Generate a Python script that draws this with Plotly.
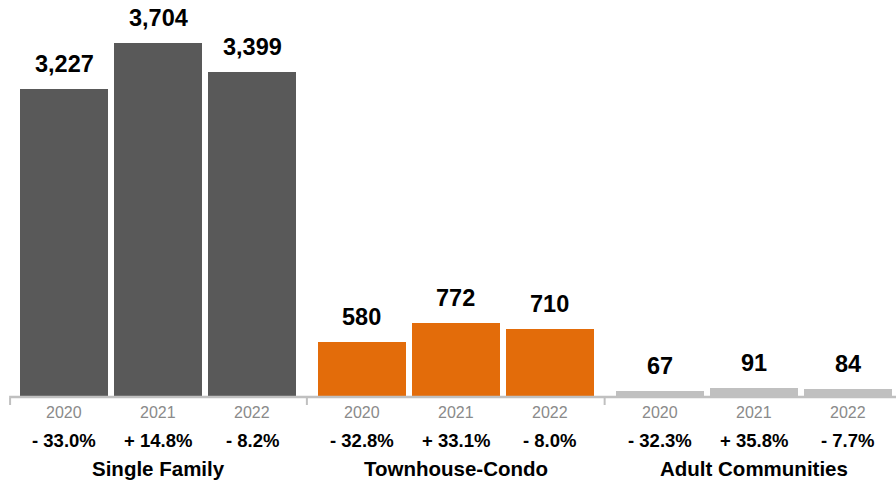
import plotly.graph_objects as go

# Closed sales by property type and year
groups = ["Single Family", "Townhouse-Condo", "Adult Communities"]
years = ["2020", "2021", "2022"]
single_family = [3227, 3704, 3399]
townhouse_condo = [580, 772, 710]
adult_communities = [67, 91, 84]
pct_single_family = ["- 33.0%", "+ 14.8%", "- 8.2%"]
pct_townhouse_condo = ["- 32.8%", "+ 33.1%", "- 8.0%"]
pct_adult_communities = ["- 32.3%", "+ 35.8%", "- 7.7%"]

series = [single_family, townhouse_condo, adult_communities]
pcts = [pct_single_family, pct_townhouse_condo, pct_adult_communities]
colors = ["#595959", "#E36C0A", "#C0C0C0"]

# Layout of the slots: one unit per bar slot, with a small extra gap between groups
GROUP_GAP = 0.1676
BAR_WIDTH = 0.936
X_MIN, X_MAX = -0.681, 8.851
Y_MAX = 4153

FONT = "Liberation Sans, Arial, Helvetica, sans-serif"

fig = go.Figure()
annotations = []
shapes = []

for g, (name, vals, pc, col) in enumerate(zip(groups, series, pcts, colors)):
    base = g * (3 + GROUP_GAP)
    xs = [base + i for i in range(len(years))]
    fig.add_trace(go.Bar(
        x=xs, y=vals, width=BAR_WIDTH, marker=dict(color=col, line=dict(width=0)),
        name=name, showlegend=False, hoverinfo="skip",
    ))
    for x, v, yr, p in zip(xs, vals, years, pc):
        # value above the bar
        annotations.append(dict(
            x=x, y=v, xref="x", yref="y", text=f"<b>{v:,}</b>", showarrow=False,
            yanchor="bottom", yshift=10, font=dict(family=FONT, size=23.5, color="#000000"),
        ))
        # year label
        annotations.append(dict(
            x=x, y=0, xref="x", yref="paper", text=yr, showarrow=False,
            yanchor="middle", yshift=-15, font=dict(family=FONT, size=16, color="#8a8a8a"),
        ))
        # year-over-year change
        annotations.append(dict(
            x=x, y=0, xref="x", yref="paper", text=f"<b>{p}</b>", showarrow=False,
            yanchor="middle", yshift=-43, font=dict(family=FONT, size=18.5, color="#000000"),
        ))
    # group name
    annotations.append(dict(
        x=base + 1, y=0, xref="x", yref="paper", text=f"<b>{name}</b>", showarrow=False,
        yanchor="middle", yshift=-71, font=dict(family=FONT, size=20.5, color="#000000"),
    ))
    # group boundary tick
    tx = base - 0.5 - GROUP_GAP / 2 + (0.01 if g == 0 else 0)
    shapes.append(dict(
        type="line", xref="x", yref="paper", x0=tx, x1=tx, y0=0, y1=0,
        line=dict(color="#C0C0C0", width=2),
    ))

# baseline
base_line_x0 = -0.5 - GROUP_GAP / 2
shapes.append(dict(
    type="line", xref="x", yref="paper", x0=base_line_x0, x1=X_MAX, y0=0, y1=0,
    line=dict(color="#C0C0C0", width=2.5),
))

fig.update_layout(
    width=896, height=483,
    margin=dict(l=0, r=0, t=0, b=86),
    paper_bgcolor="#ffffff", plot_bgcolor="#ffffff",
    bargap=0,
    xaxis=dict(range=[X_MIN, X_MAX], visible=False, fixedrange=True),
    yaxis=dict(range=[0, Y_MAX], visible=False, fixedrange=True),
    annotations=annotations,
)

# tick marks drop below the baseline; drawn with pixel offsets from the baseline
for s in shapes[:-1]:
    s.update(dict(ysizemode="pixel", yanchor=0, y0=-1, y1=-8))
fig.update_layout(shapes=shapes)

fig.write_html("out.html")
